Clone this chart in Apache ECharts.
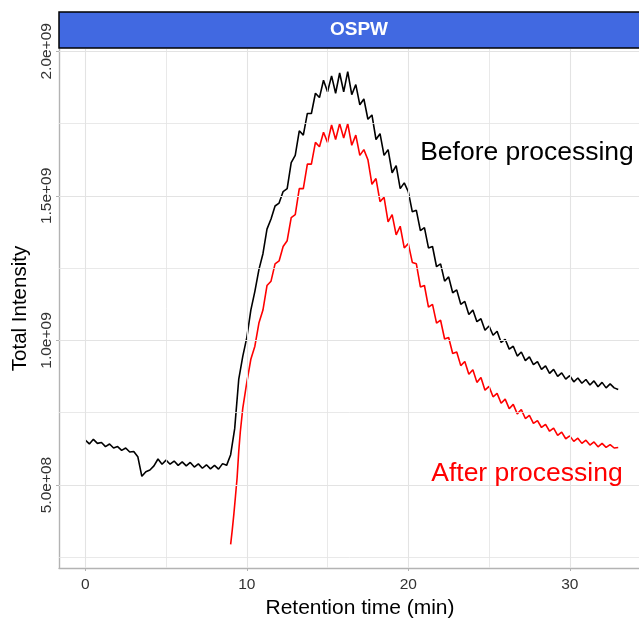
<!DOCTYPE html>
<html>
<head>
<meta charset="utf-8">
<script src="https://cdn.jsdelivr.net/npm/echarts@6/dist/echarts.min.js"></script>
<style>
  html, body { margin: 0; padding: 0; background: #fff; }
  #chart { width: 639px; height: 620px; }
</style>
</head>
<body>
<div id="chart"></div>
<script>
// intensities are in units of 1e8
const facetLabel = 'OSPW';

const beforeTime = [
  0, 0.25, 0.5, 0.75, 1, 1.25, 1.5, 1.75, 2, 2.25,
  2.5, 2.75, 3, 3.25, 3.5, 3.75, 4, 4.25, 4.5, 4.75,
  5, 5.25, 5.5, 5.75, 6, 6.25, 6.5, 6.75, 7, 7.25,
  7.5, 7.75, 8, 8.25, 8.5, 8.75, 9, 9.25, 9.5, 9.75,
  10, 10.25, 10.5, 10.75, 11, 11.25, 11.5, 11.75, 12, 12.25,
  12.5, 12.75, 13, 13.25, 13.5, 13.75, 14, 14.25, 14.5, 14.75,
  15, 15.25, 15.5, 15.75, 16, 16.25, 16.5, 16.75, 17, 17.25,
  17.5, 17.75, 18, 18.25, 18.5, 18.75, 19, 19.25, 19.5, 19.75,
  20, 20.25, 20.5, 20.75, 21, 21.25, 21.5, 21.75, 22, 22.25,
  22.5, 22.75, 23, 23.25, 23.5, 23.75, 24, 24.25, 24.5, 24.75,
  25, 25.25, 25.5, 25.75, 26, 26.25, 26.5, 26.75, 27, 27.25,
  27.5, 27.75, 28, 28.25, 28.5, 28.75, 29, 29.25, 29.5, 29.75,
  30, 30.25, 30.5, 30.75, 31, 31.25, 31.5, 31.75, 32, 32.25,
  32.5, 32.75, 33
];
const beforeIntensity = [
  6.55, 6.42, 6.58, 6.44, 6.47, 6.33, 6.42, 6.28, 6.33, 6.20,
  6.28, 6.14, 6.16, 5.98, 5.30, 5.46, 5.52, 5.66, 5.90, 5.72,
  5.86, 5.72, 5.83, 5.68, 5.80, 5.66, 5.78, 5.62, 5.73, 5.58,
  5.70, 5.56, 5.68, 5.55, 5.74, 5.68, 6.05, 6.95, 8.65, 9.45,
  10.10, 11.05, 11.70, 12.45, 13.00, 13.85, 14.20, 14.65, 14.75, 15.15,
  15.25, 16.15, 16.40, 17.25, 17.10, 17.85, 17.85, 18.55, 18.40, 19.00,
  18.60, 19.15, 18.55, 19.25, 18.60, 19.30, 18.50, 18.85, 18.15, 18.35,
  17.65, 17.80, 16.95, 17.15, 16.40, 16.60, 15.80, 16.05, 15.25, 15.45,
  15.15, 14.45, 14.50, 13.80, 13.90, 13.20, 13.25, 12.55, 12.65, 12.05,
  12.20, 11.65, 11.75, 11.25, 11.35, 10.90, 11.05, 10.65, 10.75, 10.35,
  10.50, 10.18, 10.32, 9.93, 10.04, 9.70, 9.80, 9.46, 9.60, 9.30,
  9.43, 9.16, 9.27, 9.00, 9.12, 8.86, 9.00, 8.76, 8.88, 8.66,
  8.78, 8.57, 8.70, 8.52, 8.65, 8.46, 8.60, 8.40, 8.55, 8.36,
  8.50, 8.36, 8.30
];

const afterTime = [
  9, 9.1, 9.2, 9.3, 9.4, 9.5, 9.6, 9.75,
  10, 10.25, 10.5, 10.75, 11, 11.25, 11.5, 11.75, 12, 12.25,
  12.5, 12.75, 13, 13.25, 13.5, 13.75, 14, 14.25, 14.5, 14.75,
  15, 15.25, 15.5, 15.75, 16, 16.25, 16.5, 16.75, 17, 17.25,
  17.5, 17.75, 18, 18.25, 18.5, 18.75, 19, 19.25, 19.5, 19.75,
  20, 20.25, 20.5, 20.75, 21, 21.25, 21.5, 21.75, 22, 22.25,
  22.5, 22.75, 23, 23.25, 23.5, 23.75, 24, 24.25, 24.5, 24.75,
  25, 25.25, 25.5, 25.75, 26, 26.25, 26.5, 26.75, 27, 27.25,
  27.5, 27.75, 28, 28.25, 28.5, 28.75, 29, 29.25, 29.5, 29.75,
  30, 30.25, 30.5, 30.75, 31, 31.25, 31.5, 31.75, 32, 32.25,
  32.5, 32.75, 33
];
const afterIntensity = [
  2.95, 3.45, 4.00, 4.62, 5.25, 6.15, 6.85, 7.65,
  8.55, 9.35, 9.80, 10.60, 11.05, 11.90, 12.05, 12.65, 12.75, 13.25,
  13.45, 14.25, 14.35, 15.25, 15.25, 16.10, 16.10, 16.85, 16.70, 17.20,
  16.85, 17.45, 16.95, 17.50, 17.00, 17.50, 16.75, 17.10, 16.40, 16.60,
  16.25, 15.40, 15.60, 14.80, 14.95, 14.10, 14.35, 13.65, 13.95, 13.20,
  13.35, 12.70, 12.65, 11.85, 11.90, 11.15, 11.25, 10.60, 10.70, 10.05,
  10.10, 9.55, 9.60, 9.13, 9.27, 8.83, 8.99, 8.55, 8.72, 8.28,
  8.41, 8.05, 8.17, 7.83, 7.97, 7.64, 7.79, 7.46, 7.61, 7.30,
  7.41, 7.13, 7.23, 6.99, 7.10, 6.86, 6.97, 6.72, 6.83, 6.60,
  6.70, 6.51, 6.62, 6.44, 6.55, 6.38, 6.49, 6.32, 6.44, 6.30,
  6.40, 6.28, 6.30
];

const xTicks = [0, 10, 20, 30];
const xMinor = [5, 15, 25, 35];
const yTicks = [5, 10, 15, 20];
const yMinor = [2.5, 7.5, 12.5, 17.5];

// annotation positions (retention time, intensity)
const beforeLabel = { text: 'Before processing', at: [27.35, 16.5] };
const afterLabel = { text: 'After processing', at: [27.35, 5.4] };

const FONT = '"Liberation Sans", Arial, Helvetica, sans-serif';
const GRID_COLOR = '#e3e3e3';
const AXIS_COLOR = '#b3b3b3';

function pairs(xs, ys) {
  return xs.map((x, i) => [x, ys[i]]);
}

function yLabel(v) {
  if (!yTicks.includes(v)) return '';
  return v < 10 ? v.toFixed(1) + 'e+08' : (v / 10).toFixed(1) + 'e+09';
}

const chart = echarts.init(document.getElementById('chart'), null, { renderer: 'canvas' });

const gridLines = [
  ...xTicks.map((v) => ({ xAxis: v, lineStyle: { width: 1.1 } })),
  ...xMinor.map((v) => ({ xAxis: v, lineStyle: { width: 0.8 } })),
  ...yTicks.map((v) => ({ yAxis: v, lineStyle: { width: 1.1 } })),
  ...yMinor.map((v) => ({ yAxis: v, lineStyle: { width: 0.8 } })),
];

chart.setOption({
  animation: false,
  backgroundColor: '#fff',
  textStyle: { fontFamily: FONT },
  grid: {
    left: 59, right: -22, top: 49, bottom: 52,
    containLabel: false,
    outerBoundsMode: 'none',
  },
  xAxis: {
    type: 'value',
    min: -1.63,
    max: 35.65,
    name: 'Retention time (min)',
    nameLocation: 'middle',
    nameGap: 30,
    nameTextStyle: { fontSize: 21, color: '#000', fontFamily: FONT },
    axisLine: { show: true, onZero: false, lineStyle: { color: AXIS_COLOR, width: 1.4 } },
    axisTick: { show: true, length: 3, customValues: xTicks, lineStyle: { color: AXIS_COLOR } },
    axisLabel: {
      customValues: xTicks,
      margin: 9,
      fontSize: 15.5,
      color: '#333',
      formatter: (v) => (xTicks.includes(v) ? String(v) : ''),
    },
    splitLine: { show: false },
  },
  yAxis: {
    type: 'value',
    min: 2.13,
    max: 20.08,
    name: 'Total Intensity',
    nameLocation: 'middle',
    nameGap: 25,
    nameRotate: 90,
    nameTextStyle: { fontSize: 20.5, color: '#000', fontFamily: FONT },
    axisLine: { show: true, onZero: false, lineStyle: { color: AXIS_COLOR, width: 1.4 } },
    axisTick: { show: true, length: 3, customValues: yTicks, lineStyle: { color: AXIS_COLOR } },
    axisLabel: {
      customValues: yTicks,
      rotate: 90,
      margin: 4,
      fontSize: 15.5,
      color: '#333',
      formatter: yLabel,
    },
    splitLine: { show: false },
  },
  series: [
    {
      name: 'grid',
      type: 'line',
      data: [],
      z: 0,
      silent: true,
      markLine: {
        silent: true,
        symbol: ['none', 'none'],
        label: { show: false },
        lineStyle: { color: GRID_COLOR, type: 'solid' },
        emphasis: { disabled: true },
        data: gridLines,
      },
    },
    {
      name: 'Before processing',
      type: 'line',
      data: pairs(beforeTime, beforeIntensity),
      showSymbol: false,
      z: 3,
      lineStyle: { color: '#000', width: 1.6 },
      markPoint: {
        symbol: 'circle',
        symbolSize: 0,
        silent: true,
        label: {
          show: true,
          formatter: beforeLabel.text,
          color: '#000',
          fontSize: 26.5,
          fontFamily: FONT,
          position: 'inside',
        },
        data: [{ coord: beforeLabel.at }],
      },
    },
    {
      name: 'After processing',
      type: 'line',
      data: pairs(afterTime, afterIntensity),
      showSymbol: false,
      z: 2,
      lineStyle: { color: '#ff0000', width: 1.6 },
      markPoint: {
        symbol: 'circle',
        symbolSize: 0,
        silent: true,
        label: {
          show: true,
          formatter: afterLabel.text,
          color: '#ff0000',
          fontSize: 26.5,
          fontFamily: FONT,
          position: 'inside',
        },
        data: [{ coord: afterLabel.at }],
      },
    },
  ],
  graphic: [
    {
      type: 'rect',
      shape: { x: 59, y: 12, width: 602, height: 36 },
      style: { fill: '#4169e1', stroke: '#000', lineWidth: 1.5 },
      z: 10,
    },
    {
      type: 'text',
      x: 359,
      y: 30,
      style: {
        text: facetLabel,
        fill: '#fff',
        font: 'bold 19px ' + FONT,
        textAlign: 'center',
        textVerticalAlign: 'middle',
      },
      z: 11,
    },
  ],
});
</script>
</body>
</html>
